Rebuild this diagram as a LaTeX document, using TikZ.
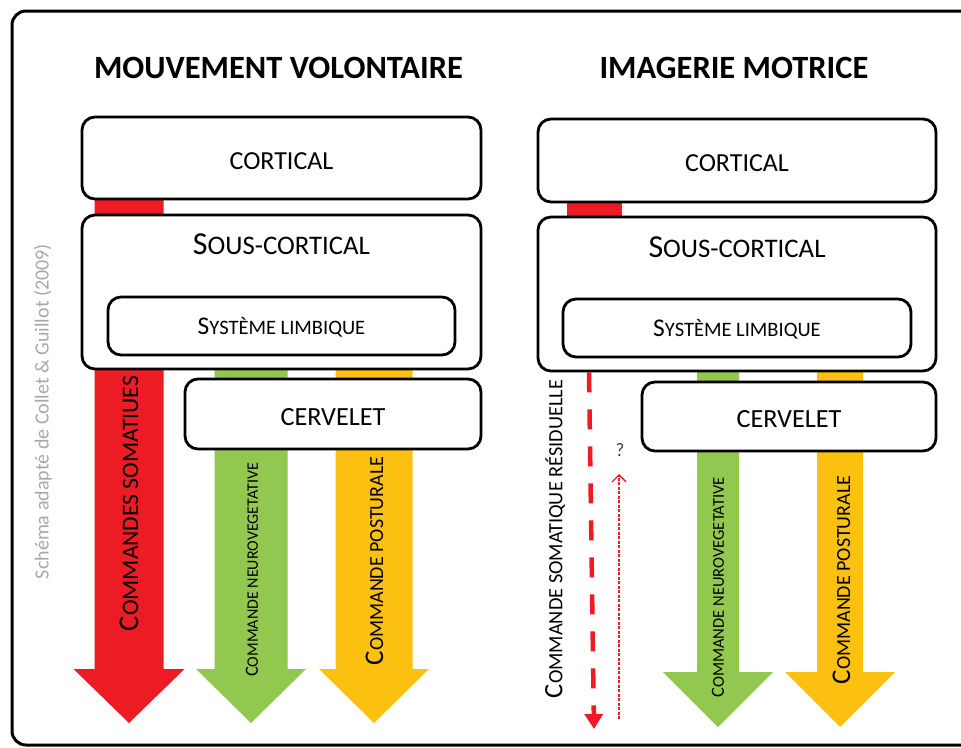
\documentclass[tikz,border=0pt]{standalone}
\usepackage{fontspec}
\setmainfont{Carlito}
\usetikzlibrary{calc,backgrounds,arrows.meta}
\definecolor{redc}{RGB}{237,28,36}
\definecolor{greenc}{RGB}{146,200,80}
\definecolor{yellowc}{RGB}{252,192,16}
\definecolor{grayc}{RGB}{168,168,168}
\newcommand\fsz[1]{\fontsize{#1pt}{#1pt}\selectfont}
% #1 colour, #2 tip, #3 node where shaft starts, #4 half shaft, #5 half head, #6 head length
\newcommand\blockarr[6]{\fill[#1] ($(#2 |- #3)+(-#4,0)$) -- ($(#2)+(-#4,-#6)$) -- ($(#2)+(-#5,-#6)$) -- (#2) -- ($(#2)+(#5,-#6)$) -- ($(#2)+(#4,-#6)$) -- ($(#2 |- #3)+(#4,0)$) -- cycle;}
\begin{document}
\begin{tikzpicture}[x=1pt,y=-1pt,
  box/.style={draw,line width=2.8pt,rounded corners=13pt,fill=white,inner sep=0pt},
  lab/.style={inner sep=0pt,text=black},
  vlab/.style={inner sep=0pt,text=black,rotate=90}]
\useasboundingbox (0,0) rectangle (961,747);
\begin{scope}
\clip (0,0) rectangle (961,747);
\draw[line width=3pt,rounded corners=14pt] (12,11) rectangle (1000,745);
\end{scope}

% side credit
\node[inner sep=0pt,text=grayc,rotate=90] (credit) at (43,411.5) {\fsz{20}Schéma adapté de Collet \& Guillot (2009)};

% ---------- left panel ----------
\node[lab] (titleL) at (278.5,68) {\fsz{32.5}\bfseries MOUVEMENT VOLONTAIRE};
\node[box,minimum width=399pt,minimum height=82pt] (cortL) at (281.5,158) {};
\node[lab] (cortLt) at (281.5,161) {\fsz{26}CORTICAL};
\node[box,minimum width=399pt,minimum height=154pt] (sousL) at (281.5,292) {};
\node[lab] (sousLt) at (281.5,244) {\fsz{32}S\fsz{26.8}OUS-CORTICAL};
\node[box,minimum width=347pt,minimum height=58pt] (limbL) at (281.5,326) {};
\node[lab] (limbLt) at (281.5,327) {\fsz{25.5}S\fsz{20.5}YSTÈME LIMBIQUE};
\node[box,minimum width=296pt,minimum height=70pt] (cervL) at (333,414) {};
\node[lab] (cervLt) at (333,417) {\fsz{26.2}CERVELET};

\coordinate (tipLr) at (129,723);
\coordinate (tipLg) at (251,723);
\coordinate (tipLy) at (374,723);

\node[vlab] (somL) at (129,503.5) {\fsz{28.5}C\fsz{23.6}OMMANDES SOMATIUES};
\node[vlab] (neuL) at (252,570) {\fsz{18.5}C\fsz{16}OMMANDE NEUROVEGETATIVE};
\node[vlab] (posL) at (374.5,561) {\fsz{27}C\fsz{20}OMMANDE POSTURALE};

% ---------- right panel ----------
\node[lab] (titleR) at (734,68) {\fsz{32.5}\bfseries IMAGERIE MOTRICE};
\node[box,minimum width=398pt,minimum height=83pt] (cortR) at (737,160.5) {};
\node[lab] (cortRt) at (737,163) {\fsz{26}CORTICAL};
\node[box,minimum width=398pt,minimum height=154pt] (sousR) at (737,294) {};
\node[lab] (sousRt) at (737,247) {\fsz{32}S\fsz{26.8}OUS-CORTICAL};
\node[box,minimum width=348pt,minimum height=58pt] (limbR) at (737,328) {};
\node[lab] (limbRt) at (737,329) {\fsz{25.5}S\fsz{20.5}YSTÈME LIMBIQUE};
\node[box,minimum width=294pt,minimum height=69pt] (cervR) at (789,416.5) {};
\node[lab] (cervRt) at (789,419) {\fsz{26.2}CERVELET};

\coordinate (tipRg) at (718,727);
\coordinate (tipRy) at (840,727);
\coordinate (dtip) at (594,729);
\coordinate (qbot) at (619,719);
\coordinate (qtop) at (619,474);

\node[vlab] (somR) at (555,539) {\fsz{26.5}C\fsz{20.3}OMMANDE SOMATIQUE RÉSIDUELLE};
\node[vlab] (neuR) at (718,587.5) {\fsz{18.5}C\fsz{16.5}OMMANDE NEUROVEGETATIVE};
\node[vlab] (posR) at (841.5,580) {\fsz{27}C\fsz{20}OMMANDE POSTURALE};
\node[inner sep=0pt,text=black!75] (q) at (620,450) {\fsz{19}?};

\draw[redc,line width=1.2pt,dash pattern=on 3pt off 1.5pt,
  -{Straight Barb[length=7pt,width=14pt,line width=1.3pt]}] (qbot) -- (qtop);

\begin{pgfonlayer}{background}
\blockarr{redc}{tipLr}{cortL}{34.5}{55.5}{54}
\blockarr{greenc}{tipLg}{sousL}{36.5}{55}{54}
\blockarr{yellowc}{tipLy}{sousL}{38.5}{55}{54}
\fill[redc] ($(cortR.center)+(-170,0)$) rectangle ($(sousR.center)+(-115,0)$);
\blockarr{greenc}{tipRg}{sousR}{21}{55}{55}
\blockarr{yellowc}{tipRy}{sousR}{23}{55}{55}
\draw[redc,line width=4.5pt,dash pattern=on 20pt off 17pt,
  -{Triangle[width=18pt,length=15pt]}] ($(sousR.south)+(-148,0)$) -- (dtip);
\end{pgfonlayer}
\end{tikzpicture}
\end{document}
